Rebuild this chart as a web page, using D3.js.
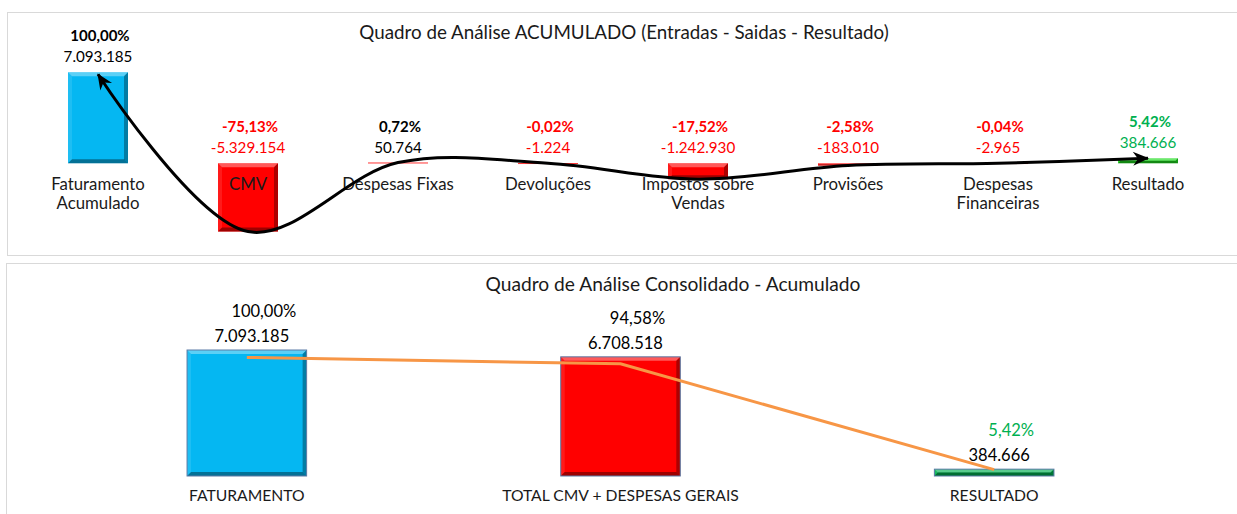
<!DOCTYPE html>
<html>
<head>
<meta charset="utf-8">
<script src="https://cdn.jsdelivr.net/npm/d3@7"></script>
<style>
  html, body { margin: 0; padding: 0; background: #fff; }
  svg { display: block; }
  text { font-family: Lato, "Open Sans", sans-serif; }
</style>
</head>
<body>
<svg id="chart" width="1237" height="514"></svg>
<script>
// ---- Quadro de Análise ACUMULADO (Entradas - Saidas - Resultado) ----
const flowCategories = [
  "Faturamento\nAcumulado", "CMV", "Despesas Fixas", "Devoluções",
  "Impostos sobre\nVendas", "Provisões", "Despesas\nFinanceiras", "Resultado"
];
const flowValues = [7093185, -5329154, 50764, -1224, -1242930, -183010, -2965, 384666];

// ---- Quadro de Análise Consolidado - Acumulado ----
const consCategories = ["FATURAMENTO", "TOTAL CMV + DESPESAS GERAIS", "RESULTADO"];
const consValues = [7093185, 6708518, 384666];

const locale = d3.formatLocale({ decimal: ",", thousands: ".", grouping: [3], currency: ["R$", ""], minus: "-" });
const fmtNum = locale.format(",.0f");
const fmtPct = locale.format(".2%");

const BLUE = "#05B7F2", RED = "#FF0000", GREEN_BRIGHT = "#1EDC1E", GREEN = "#00B050";
const svg = d3.select("#chart");

svg.append("rect").attr("width", 1237).attr("height", 514).attr("fill", "#fff");

// panel frames
svg.append("rect").attr("x", 7.5).attr("y", 12.5).attr("width", 1240).attr("height", 243)
  .attr("fill", "none").attr("stroke", "#D9D9D9");
svg.append("rect").attr("x", 6.5).attr("y", 263.5).attr("width", 1240).attr("height", 260)
  .attr("fill", "none").attr("stroke", "#D9D9D9");

// Bar with a bevelled edge
function bevelBar(g, x, y, w, h, color, outline) {
  const bar = g.append("g");
  bar.append("rect").attr("x", x).attr("y", y).attr("width", w).attr("height", Math.max(h, 0.8))
    .attr("fill", color);
  const b = Math.min(4, h / 2, w / 2);
  if (b >= 1) {
    const faces = [
      { p: [[x, y], [x + w, y], [x + w - b, y + b], [x + b, y + b]], f: "#fff", o: 0.35 },
      { p: [[x, y], [x + b, y + b], [x + b, y + h - b], [x, y + h]], f: "#fff", o: 0.1 },
      { p: [[x + w, y], [x + w, y + h], [x + w - b, y + h - b], [x + w - b, y + b]], f: "#000", o: 0.32 },
      { p: [[x, y + h], [x + b, y + h - b], [x + w - b, y + h - b], [x + w, y + h]], f: "#000", o: 0.38 }
    ];
    bar.selectAll("polygon").data(faces).join("polygon")
      .attr("points", d => d.p.map(q => q.join(",")).join(" "))
      .attr("fill", d => d.f).attr("fill-opacity", d => d.o);
  }
  if (outline) {
    bar.append("rect").attr("x", x).attr("y", y).attr("width", w).attr("height", h)
      .attr("fill", "none").attr("stroke", outline).attr("stroke-width", 1);
  }
}

// ================= top chart =================
{
  const g = svg.append("g");
  const x = d3.scaleBand().domain(flowCategories).range([23, 1223]).paddingInner(0.6).paddingOuter(0.3);
  const y = d3.scaleLinear().domain([-6e6, 8e6]).range([240.2, 60.6]);
  const total = flowValues[0];
  const last = flowValues.length - 1;

  g.append("text").attr("x", 624).attr("y", 39).attr("text-anchor", "middle")
    .attr("font-size", 18.8).attr("fill", "#1a1a1a")
    .text("Quadro de Análise ACUMULADO (Entradas - Saidas - Resultado)");

  const barColor = (v, i) => i === 0 ? BLUE : (i === last ? GREEN_BRIGHT : RED);
  flowValues.forEach((v, i) => {
    const c = flowCategories[i];
    const y0 = y(Math.max(v, 0)), y1 = y(Math.min(v, 0));
    bevelBar(g, x(c), y0, x.bandwidth(), y1 - y0, barColor(v, i));
  });

  // category labels
  const labels = g.append("g").attr("font-size", 16.8).attr("fill", "#1a1a1a").attr("text-anchor", "middle");
  flowCategories.forEach(c => {
    const t = labels.append("text").attr("x", x(c) + x.bandwidth() / 2).attr("y", y(0) + 27);
    c.split("\n").forEach((line, k) => {
      t.append("tspan").attr("x", x(c) + x.bandwidth() / 2).attr("dy", k ? 19 : 0).text(line);
    });
  });

  // value and percentage labels
  const labelColor = (v, i) => i === last ? GREEN : (v < 0 ? RED : "#000");
  flowValues.forEach((v, i) => {
    const c = flowCategories[i];
    const cx = x(c) + x.bandwidth() / 2;
    const top = y(Math.max(v, 0));
    g.append("text").attr("x", cx).attr("y", top - 10).attr("text-anchor", "middle")
      .attr("font-size", 15.2).attr("fill", labelColor(v, i)).text(fmtNum(v));
    g.append("text").attr("x", cx + 2).attr("y", top - 31).attr("text-anchor", "middle")
      .attr("font-size", 15).attr("font-weight", "bold").attr("fill", labelColor(v, i))
      .text(fmtPct(v / total));
  });

  // flow curve through the bar ends, arrow at both ends
  const defs = svg.append("defs");
  defs.append("marker").attr("id", "arrowHead").attr("viewBox", "-16 -8 18 16")
    .attr("refX", 0).attr("refY", 0).attr("markerWidth", 18).attr("markerHeight", 16)
    .attr("markerUnits", "userSpaceOnUse").attr("orient", "auto-start-reverse")
    .append("path").attr("d", "M1,0 L-15,-7 L-10,0 L-15,7 Z").attr("fill", "#000");

  const pts = flowValues.map((v, i) => [x(flowCategories[i]) + x.bandwidth() / 2, y(v)]);
  pts[0][1] += 2;
  g.append("path").attr("d", d3.line().curve(d3.curveCatmullRom.alpha(0.5))(pts))
    .attr("fill", "none").attr("stroke", "#000").attr("stroke-width", 3)
    .attr("marker-start", "url(#arrowHead)").attr("marker-end", "url(#arrowHead)");
}

// ================= bottom chart =================
{
  const g = svg.append("g");
  const x = d3.scaleBand().domain(consCategories).range([60, 1181]).paddingInner(0.68).paddingOuter(0.34);
  const yBar = d3.scaleLinear().domain([0, 8e6]).range([476, 333.9]);
  const yLine = d3.scaleLinear().domain([0, 8.5e6]).range([476, 333.9]);
  const total = consValues[0];
  const colors = [BLUE, RED, GREEN];

  g.append("text").attr("x", 673).attr("y", 291).attr("text-anchor", "middle")
    .attr("font-size", 19.2).attr("fill", "#1a1a1a")
    .text("Quadro de Análise Consolidado - Acumulado");

  consValues.forEach((v, i) => {
    const c = consCategories[i];
    bevelBar(g, x(c), yBar(v), x.bandwidth(), yBar(0) - yBar(v), colors[i], "#5B7BA6");
  });

  g.append("path")
    .attr("d", d3.line()(consValues.map((v, i) => [x(consCategories[i]) + x.bandwidth() / 2, yLine(v)])))
    .attr("fill", "none").attr("stroke", "#F79646").attr("stroke-width", 3);

  consCategories.forEach((c, i) => {
    const cx = x(c) + x.bandwidth() / 2;
    const top = yBar(consValues[i]);
    g.append("text").attr("x", cx).attr("y", 501).attr("text-anchor", "middle")
      .attr("font-size", 15.7).attr("fill", "#1a1a1a").text(c);
    g.append("text").attr("x", cx + 5).attr("y", top - 8).attr("text-anchor", "middle")
      .attr("font-size", 16.5).attr("fill", "#000").text(fmtNum(consValues[i]));
    g.append("text").attr("x", cx + 17).attr("y", top - 33).attr("text-anchor", "middle")
      .attr("font-size", 16.5).attr("fill", i === consValues.length - 1 ? GREEN : "#000")
      .text(fmtPct(consValues[i] / total));
  });
}
</script>
</body>
</html>
